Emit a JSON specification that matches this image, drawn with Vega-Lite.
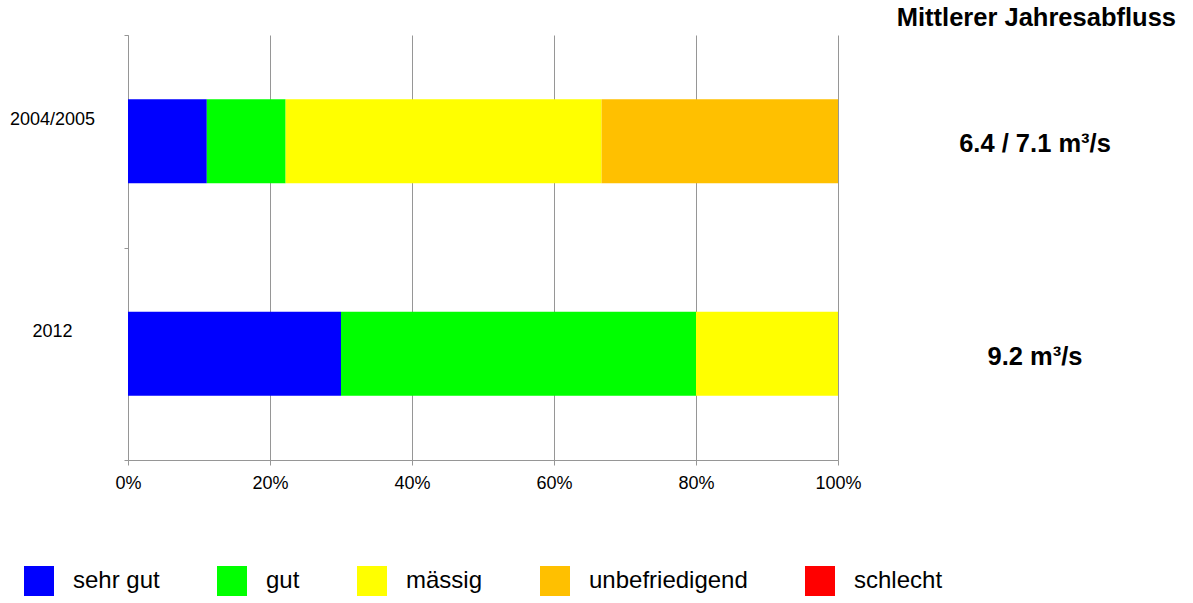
{
  "$schema": "https://vega.github.io/schema/vega-lite/v6.json",
  "padding": {"left": 9, "top": 5, "right": 5, "bottom": 5},
  "background": "white",
  "config": {
    "view": {"stroke": null},
    "font": "Liberation Sans"
  },
  "bounds": "flush",
  "spacing": 56,
  "datasets": {
    "anteile": [
      {"jahr": "2004/2005", "zustand": "sehr gut", "anteil": 0.111, "rang": 1},
      {"jahr": "2004/2005", "zustand": "gut", "anteil": 0.111, "rang": 2},
      {"jahr": "2004/2005", "zustand": "mässig", "anteil": 0.445, "rang": 3},
      {"jahr": "2004/2005", "zustand": "unbefriedigend", "anteil": 0.333, "rang": 4},
      {"jahr": "2012", "zustand": "sehr gut", "anteil": 0.30, "rang": 1},
      {"jahr": "2012", "zustand": "gut", "anteil": 0.50, "rang": 2},
      {"jahr": "2012", "zustand": "mässig", "anteil": 0.20, "rang": 3}
    ],
    "abfluss": [
      {"jahr": "2004/2005", "text": "6.4 / 7.1 m³/s"},
      {"jahr": "2012", "text": "9.2 m³/s"}
    ]
  },
  "hconcat": [
    {
      "width": 710,
      "height": 425,
      "data": {"name": "anteile"},
      "mark": {"type": "bar", "height": {"band": 0.395}},
      "encoding": {
        "y": {
          "field": "jahr",
          "type": "nominal",
          "sort": ["2004/2005", "2012"],
          "scale": {"paddingInner": 0, "paddingOuter": 0},
          "axis": {
            "title": null,
            "tickBand": "extent",
            "domainColor": "#969696",
            "tickColor": "#969696",
            "tickSize": 4,
            "labelAlign": "center",
            "labelPadding": 72,
            "labelOffset": -22,
            "labelFontSize": 18,
            "labelColor": "#000000",
            "labelFont": "Liberation Sans",
            "grid": false
          }
        },
        "x": {
          "field": "anteil",
          "type": "quantitative",
          "stack": "normalize",
          "scale": {"domain": [0, 1]},
          "axis": {
            "title": null,
            "values": [0, 0.2, 0.4, 0.6, 0.8, 1],
            "format": ".0%",
            "grid": true,
            "gridColor": "#969696",
            "domainColor": "#969696",
            "tickColor": "#969696",
            "tickSize": 5,
            "labelPadding": 9,
            "labelFontSize": 18,
            "labelColor": "#000000",
            "labelFont": "Liberation Sans",
            "labelFlush": false
          }
        },
        "color": {
          "field": "zustand",
          "type": "nominal",
          "scale": {
            "domain": ["sehr gut", "gut", "mässig", "unbefriedigend", "schlecht"],
            "range": ["#0000FF", "#00FF00", "#FFFF00", "#FFC000", "#FF0000"]
          },
          "legend": {
            "title": null,
            "orient": "none",
            "direction": "horizontal",
            "columns": 5,
            "legendX": -104,
            "legendY": 531,
            "symbolType": "square",
            "symbolSize": 900,
            "symbolStrokeWidth": 0,
            "symbolOpacity": 1,
            "labelFontSize": 24,
            "labelFont": "Liberation Sans",
            "labelColor": "#000000",
            "labelOffset": 19,
            "columnPadding": 57,
            "labelLimit": 400
          }
        },
        "order": {"field": "rang", "type": "quantitative"}
      }
    },
    {
      "width": 282,
      "height": 425,
      "data": {"name": "abfluss"},
      "title": {
        "text": "Mittlerer Jahresabfluss",
        "anchor": "end",
        "fontSize": 25.5,
        "fontWeight": "bold",
        "font": "Liberation Sans",
        "color": "#000000",
        "offset": 4
      },
      "mark": {
        "type": "text",
        "fontSize": 25.5,
        "fontWeight": "bold",
        "font": "Liberation Sans",
        "color": "#000000",
        "baseline": "middle",
        "align": "center",
        "dy": 3
      },
      "encoding": {
        "y": {
          "field": "jahr",
          "type": "nominal",
          "sort": ["2004/2005", "2012"],
          "scale": {"paddingInner": 0, "paddingOuter": 0},
          "axis": null
        },
        "text": {"field": "text", "type": "nominal"}
      }
    }
  ]
}
